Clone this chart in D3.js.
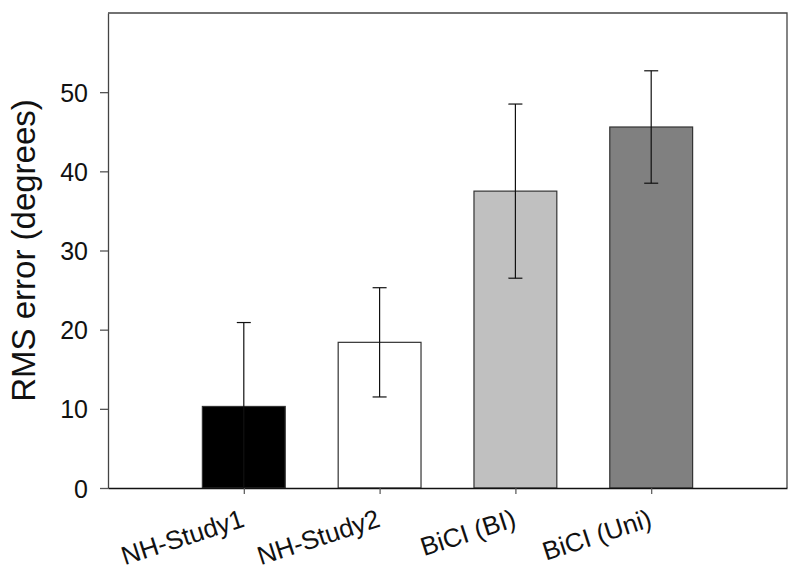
<!DOCTYPE html>
<html>
<head>
<meta charset="utf-8">
<script src="https://cdn.jsdelivr.net/npm/d3@7"></script>
<style>
  body { margin: 0; background: #fff; }
  text { font-family: "Liberation Sans", Arial, sans-serif; }
</style>
</head>
<body>
<div id="chart"></div>
<script>
const groups = ["NH-Study1", "NH-Study2", "BiCI (BI)", "BiCI (Uni)"];
const rmsError = [10.3, 18.4, 37.5, 45.6];
const errorSd = [10.6, 6.9, 11.0, 7.1];
const barColors = ["#000000", "#ffffff", "#c0c0c0", "#808080"];
const yTicks = [0, 10, 20, 30, 40, 50];

const width = 800;
const height = 573;
const margin = {top: 13, right: 13, bottom: 85, left: 108};

const svg = d3.select('#chart')
    .append('svg')
        .attr('width', width)
        .attr('height', height);

// bars sit at 1..4 on a 0..5 axis
const x = d3.scaleLinear()
    .domain([0, groups.length + 1])
    .range([margin.left, width - margin.right]);

const y = d3.scaleLinear()
    .domain([0, 60])
    .range([height - margin.bottom, margin.top]);

const barWidth = (x(1) - x(0)) * 0.61;

// frame (top and right)
svg.append('path')
    .attr('d', `M${x(0)},${y(60)}H${x(5)}V${y(0)}`)
    .attr('fill', 'none')
    .attr('stroke', '#444')
    .attr('stroke-width', 1.3);

const bars = svg.selectAll('.bar')
    .data(groups)
    .join('g')
    .attr('class', 'bar');

bars.append('rect')
    .attr('x', (d, i) => x(i + 1) - barWidth / 2)
    .attr('y', (d, i) => y(rmsError[i]))
    .attr('width', barWidth)
    .attr('height', (d, i) => y(0) - y(rmsError[i]))
    .attr('fill', (d, i) => barColors[i])
    .attr('stroke', '#333')
    .attr('stroke-width', 1.2);

// error bars
const capHalf = 7;
bars.append('line')
    .attr('x1', (d, i) => x(i + 1))
    .attr('x2', (d, i) => x(i + 1))
    .attr('y1', (d, i) => y(Math.max(0, rmsError[i] - errorSd[i])))
    .attr('y2', (d, i) => y(rmsError[i] + errorSd[i]))
    .attr('stroke', '#111')
    .attr('stroke-width', 1.2);

bars.append('line')
    .attr('x1', (d, i) => x(i + 1) - capHalf)
    .attr('x2', (d, i) => x(i + 1) + capHalf)
    .attr('y1', (d, i) => y(rmsError[i] + errorSd[i]))
    .attr('y2', (d, i) => y(rmsError[i] + errorSd[i]))
    .attr('stroke', '#111')
    .attr('stroke-width', 1.2);

bars.filter((d, i) => rmsError[i] - errorSd[i] > 0)
    .append('line')
    .attr('x1', d => x(groups.indexOf(d) + 1) - capHalf)
    .attr('x2', d => x(groups.indexOf(d) + 1) + capHalf)
    .attr('y1', d => y(rmsError[groups.indexOf(d)] - errorSd[groups.indexOf(d)]))
    .attr('y2', d => y(rmsError[groups.indexOf(d)] - errorSd[groups.indexOf(d)]))
    .attr('stroke', '#111')
    .attr('stroke-width', 1.2);

// y axis
const yAxis = svg.append('g')
    .attr('transform', `translate(${x(0)},0)`)
    .call(d3.axisLeft(y).tickValues(yTicks).tickSize(8).tickPadding(12).tickSizeOuter(0));
yAxis.select('.domain').attr('stroke', '#444').attr('stroke-width', 1.3);
yAxis.selectAll('.tick line').attr('stroke', '#555').attr('stroke-width', 1.3);
yAxis.selectAll('.tick text')
    .attr('font-size', 25)
    .attr('fill', '#111')
    .attr('dy', '0.36em');

// x axis
const xAxis = svg.append('g')
    .attr('transform', `translate(0,${y(0)})`)
    .call(d3.axisBottom(x).tickValues([1, 2, 3, 4]).tickSize(6).tickSizeOuter(0).tickFormat(''));
xAxis.select('.domain').attr('stroke', '#111').attr('stroke-width', 1.5);
xAxis.selectAll('.tick line').attr('stroke', '#555').attr('stroke-width', 1.2);

svg.append('g').selectAll('text')
    .data(groups)
    .join('text')
    .attr('transform', (d, i) => `translate(${x(i + 1) + 2},${y(0) + 38}) rotate(-18)`)
    .attr('text-anchor', 'end')
    .attr('font-size', 26)
    .attr('fill', '#111')
    .text(d => d);

// y label
svg.append('text')
    .attr('transform', `translate(35,${(y(0) + y(60)) / 2}) rotate(-90)`)
    .attr('text-anchor', 'middle')
    .attr('font-size', 33)
    .attr('fill', '#111')
    .text('RMS error (degrees)');
</script>
</body>
</html>
